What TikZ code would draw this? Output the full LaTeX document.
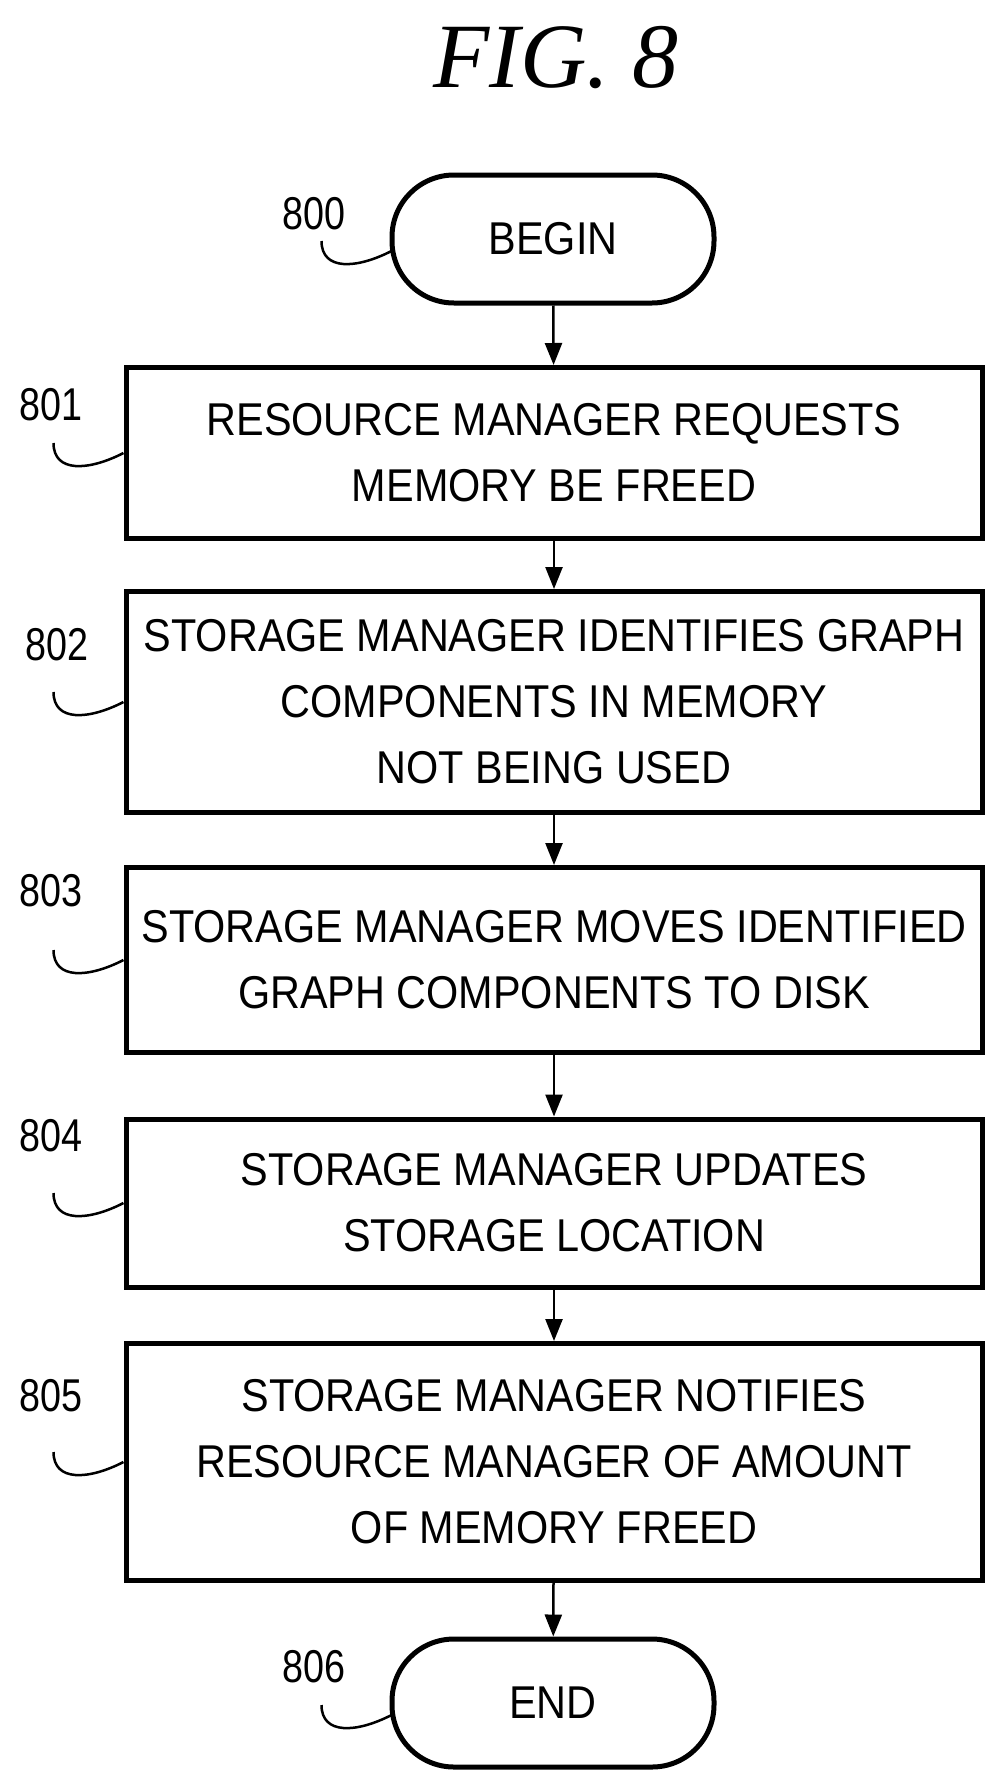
\documentclass[tikz,border=0pt]{standalone}
\usepackage{fontspec}
\setmainfont{Liberation Sans}
\newfontfamily\nf[FakeStretch=0.9]{Liberation Sans}
\newfontfamily\lf[FakeStretch=0.82]{Liberation Sans}
\newfontfamily\tf{Liberation Serif}
\usetikzlibrary{arrows.meta,calc}
\begin{document}
\begin{tikzpicture}[x=1pt,y=-1pt,
  box/.style={draw,line width=5pt,minimum width=856pt,align=center,font=\nf\fontsize{46}{66}\selectfont,inner sep=0pt},
  term/.style={draw,line width=5pt,minimum width=322pt,minimum height=128pt,rounded corners=62pt,font=\nf\fontsize{46}{66}\selectfont},
  lab/.style={font=\lf\fontsize{46}{46}\selectfont},
  arr/.style={line width=2.5pt,-{Triangle[length=22pt,width=17pt]}},
  lead/.style={line width=2.5pt}]
\useasboundingbox (0,0) rectangle (1005,1788);
\node[font=\tf\itshape\fontsize{92}{92}\selectfont] (title) at (556,58) {FIG. 8};
\node[term] (b0) at (553,239) {BEGIN};
\node[box,minimum height=171pt] (b1) at (554,453) {RESOURCE MANAGER REQUESTS\\MEMORY BE FREED};
\node[box,minimum height=221pt] (b2) at (554,702) {STORAGE MANAGER IDENTIFIES GRAPH\\COMPONENTS IN MEMORY\\NOT BEING USED};
\node[box,minimum height=185pt] (b3) at (554,960) {STORAGE MANAGER MOVES IDENTIFIED\\GRAPH COMPONENTS TO DISK};
\node[box,minimum height=168pt] (b4) at (554,1203) {STORAGE MANAGER UPDATES\\STORAGE LOCATION};
\node[box,minimum height=237pt] (b5) at (554,1462) {STORAGE MANAGER NOTIFIES\\RESOURCE MANAGER OF AMOUNT\\OF MEMORY FREED};
\node[term] (b6) at (553,1703) {END};
\foreach \a/\b in {b0/b1,b1/b2,b2/b3,b3/b4,b4/b5,b5/b6} \draw[arr] (\a) -- (\b);
\node[lab] (l0) at (314,214) {800};
\node[lab] (l1) at (51,405) {801};
\node[lab] (l2) at (57,645) {802};
\node[lab] (l3) at (51,891) {803};
\node[lab] (l4) at (51,1136) {804};
\node[lab] (l5) at (51,1396) {805};
\node[lab] (l6) at (314,1667) {806};
\coordinate (e0) at ($(b0.west)+(2,12)$);
\coordinate (e6) at ($(b6.west)+(2,12)$);
\foreach \i in {0,...,6} {
  \ifnum\i=0 \def\e{e0}\else\ifnum\i=6 \def\e{e6}\else\def\e{b\i.west}\fi\fi
  \draw[lead] (\e) .. controls +(-35,18) and +(0,30) .. ($(\e)+(-70,-10)$);
}
\end{tikzpicture}
\end{document}
